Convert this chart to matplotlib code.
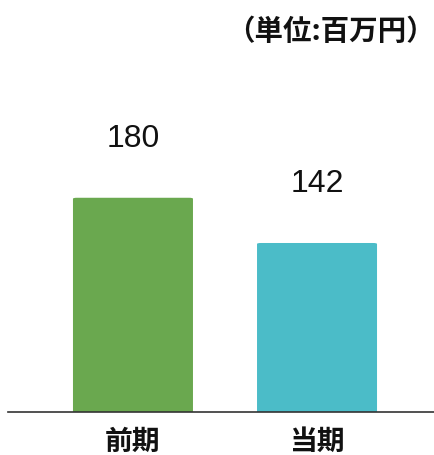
import matplotlib
matplotlib.use('Agg')
import matplotlib.pyplot as plt
from matplotlib.patches import FancyBboxPatch

# データ
categories = ['前期', '当期']
values = [180, 142]
bar_colors = ['#6aa84f', '#4bbcc8']
unit_label = '（単位:百万円）'

fig = plt.figure(figsize=(4.35, 4.56), dpi=100)
ax = fig.add_axes([8 / 435, 43 / 456, 427 / 435, 413 / 456])

x = list(range(len(categories)))
bars = ax.bar(x, values, width=0.652, color=bar_colors, linewidth=0)

# 上の角を少し丸める
for b in bars:
    b.set_visible(False)
    patch = FancyBboxPatch((b.get_x(), -10), b.get_width(), b.get_height() + 10,
                           boxstyle='round,pad=0,rounding_size=0.02',
                           mutation_aspect=40, facecolor=b.get_facecolor(),
                           linewidth=0)
    ax.add_patch(patch)

ax.set_xlim(-0.679, 1.641)
ax.set_ylim(0, 347)

# 数値ラベル
for xi, v in zip(x, values):
    ax.annotate(str(v), (xi, v), xytext=(0, 45), textcoords='offset pixels',
                ha='center', va='bottom', fontsize=23,
                family=['Liberation Sans', 'DejaVu Sans'], color='#111111')

# 軸まわり
for s in ['top', 'right', 'left']:
    ax.spines[s].set_visible(False)
ax.spines['bottom'].set_color('#333333')
ax.spines['bottom'].set_linewidth(1.2)
ax.set_yticks([])
ax.set_xticks(x)
ax.set_xticklabels(categories, fontsize=20, fontweight='bold',
                   family=['Noto Sans CJK JP', 'DejaVu Sans'], color='#111111')
ax.tick_params(axis='x', length=0, pad=11)

fig.text(1.0, 1 - 32 / 456, unit_label, ha='right', va='center',
         fontsize=20.5, fontweight='bold',
         family=['Noto Sans CJK JP', 'DejaVu Sans'], color='#111111')

fig.savefig('out.png', dpi=100)
